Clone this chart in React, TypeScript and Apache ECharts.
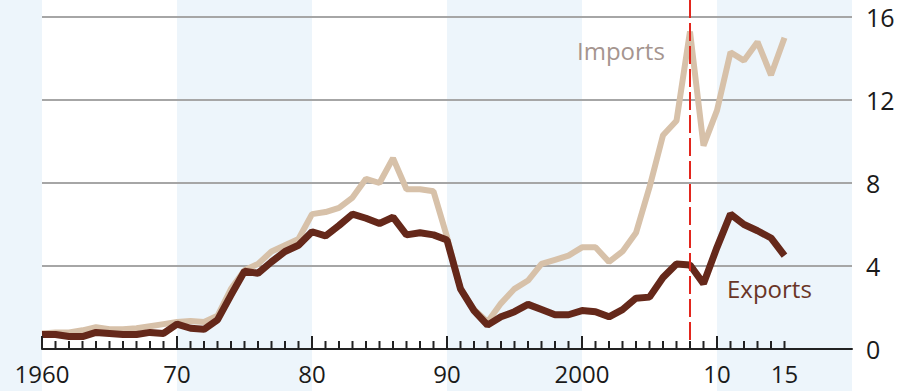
import React, { useEffect, useRef } from "react";
import * as echarts from "echarts";

const years = [
  1960, 1961, 1962, 1963, 1964, 1965, 1966, 1967, 1968, 1969,
  1970, 1971, 1972, 1973, 1974, 1975, 1976, 1977, 1978, 1979,
  1980, 1981, 1982, 1983, 1984, 1985, 1986, 1987, 1988, 1989,
  1990, 1991, 1992, 1993, 1994, 1995, 1996, 1997, 1998, 1999,
  2000, 2001, 2002, 2003, 2004, 2005, 2006, 2007, 2008, 2009,
  2010, 2011, 2012, 2013, 2014, 2015,
];

const importsValues = [
  0.75, 0.8, 0.8, 0.9, 1.05, 0.95, 0.95, 1.0, 1.1, 1.2,
  1.3, 1.35, 1.3, 1.6, 2.9, 3.8, 4.1, 4.7, 5.0, 5.3,
  6.5, 6.6, 6.8, 7.3, 8.2, 8.0, 9.2, 7.7, 7.7, 7.6,
  5.4, 2.9, 1.9, 1.3, 2.2, 2.9, 3.3, 4.1, 4.3, 4.5,
  4.9, 4.9, 4.2, 4.7, 5.6, 7.8, 10.3, 11.0, 15.3, 9.8,
  11.5, 14.3, 13.9, 14.8, 13.2, 15.0,
];

const exportsValues = [
  0.7, 0.7, 0.6, 0.6, 0.8, 0.75, 0.7, 0.7, 0.8, 0.75,
  1.2, 1.0, 0.95, 1.4, 2.6, 3.75, 3.65, 4.2, 4.7, 5.0,
  5.65, 5.45, 5.95, 6.5, 6.3, 6.05, 6.35, 5.5, 5.6, 5.5,
  5.25, 2.9, 1.85, 1.15, 1.55, 1.8, 2.15, 1.9, 1.65, 1.65,
  1.85, 1.8, 1.55, 1.9, 2.45, 2.5, 3.45, 4.1, 4.05, 3.15,
  4.9, 6.5, 6.0, 5.7, 5.35, 4.5,
];

const decadeBands = [
  [1950, 1960],
  [1970, 1980],
  [1990, 2000],
  [2010, 2020],
];
const xLabelYears = [1960, 1970, 1980, 1990, 2000, 2010, 2015];
const xLabelTexts = ["1960", "70", "80", "90", "2000", "10", "15"];
const majorTickYears = [1960, 1970, 1980, 1990, 2000, 2010];
const markerYear = 2008;
const yMin = 0;
const yMax = 16;
const yStep = 4;
const xMin = 1960;
const xMax = 2020;

const FONT = "Open Sans";

export default function App() {
  const ref = useRef<HTMLDivElement>(null);

  useEffect(() => {
    if (!ref.current) return;
    const chart = echarts.init(ref.current, null, { renderer: "svg" });

    const option: any = {
      animation: false,
      backgroundColor: "#ffffff",
      textStyle: { fontFamily: FONT },
      grid: { left: 42, right: 61, top: 17, bottom: 42, containLabel: false },
      xAxis: {
        type: "value",
        min: xMin,
        max: xMax,
        position: "bottom",
        z: 5,
        axisLine: { show: true, lineStyle: { color: "#222222", width: 2 } },
        axisTick: { show: false },
        axisLabel: { show: false },
        splitLine: { show: false },
      },
      yAxis: {
        type: "value",
        position: "right",
        min: yMin,
        max: yMax,
        interval: yStep,
        axisLine: { show: false },
        axisTick: { show: false },
        axisLabel: {
          fontSize: 25,
          color: "#1a1a1a",
          margin: 14,
          fontFamily: FONT,
        },
        splitLine: { show: true, lineStyle: { color: "#a6a6a6", width: 2 } },
      },
      series: [
        {
          type: "custom",
          name: "bands",
          silent: true,
          z: -1,
          data: decadeBands.map((b) => [b[0], b[1], 0]),
          encode: { x: [0, 1], y: 2 },
          renderItem: (params: any, api: any) => {
            const s = api.coord([api.value(0), 0]);
            const e = api.coord([api.value(1), 0]);
            return {
              type: "rect",
              shape: { x: s[0], y: 0, width: e[0] - s[0], height: api.getHeight() },
              style: { fill: "#edf5fb" },
            };
          },
        },
        {
          type: "custom",
          name: "ticks",
          silent: true,
          z: 7,
          clip: false,
          data: years.map((y) => [y, 0, majorTickYears.indexOf(y) >= 0 ? 1 : 0]),
          encode: { x: 0, y: 1 },
          renderItem: (params: any, api: any) => {
            const p = api.coord([api.value(0), api.value(1)]);
            const len = api.value(2) === 1 ? 13 : 8;
            return {
              type: "rect",
              shape: { x: p[0] - 1, y: p[1] - len, width: 2, height: len },
              style: { fill: "#222222" },
            };
          },
        },
        {
          type: "custom",
          name: "xlabels",
          silent: true,
          z: 7,
          clip: false,
          data: xLabelYears.map((y, i) => [y, 0, i]),
          encode: { x: 0, y: 1 },
          renderItem: (params: any, api: any) => {
            const p = api.coord([api.value(0), api.value(1)]);
            return {
              type: "text",
              x: p[0],
              y: p[1] + 12,
              style: {
                text: xLabelTexts[api.value(2)],
                fontSize: 24,
                fontFamily: FONT,
                fill: "#1a1a1a",
                align: "center",
                verticalAlign: "top",
              },
            };
          },
        },
        {
          type: "line",
          name: "Imports",
          data: years.map((y, i) => [y, importsValues[i]]),
          showSymbol: false,
          z: 3,
          lineStyle: { color: "#d7c1a9", width: 6 },
        },
        {
          type: "line",
          name: "Exports",
          data: years.map((y, i) => [y, exportsValues[i]]),
          showSymbol: false,
          z: 4,
          lineStyle: { color: "#65281a", width: 7 },
        },
        {
          type: "custom",
          name: "marker",
          silent: true,
          z: 6,
          data: [[markerYear, yMin]],
          renderItem: (params: any, api: any) => {
            const p = api.coord([api.value(0), api.value(1)]);
            return {
              type: "line",
              shape: { x1: p[0], y1: 0, x2: p[0], y2: p[1] },
              style: { stroke: "#e2261d", lineWidth: 2, lineDash: [18, 5] },
            };
          },
        },
      ],
      graphic: [
        {
          type: "text",
          x: 577,
          y: 50,
          z: 10,
          style: {
            text: "Imports",
            fontSize: 24,
            fontFamily: FONT,
            fill: "#a5958f",
            verticalAlign: "middle",
          },
        },
        {
          type: "text",
          x: 727,
          y: 288,
          z: 10,
          style: {
            text: "Exports",
            fontSize: 24,
            fontFamily: FONT,
            fill: "#6a3526",
            verticalAlign: "middle",
          },
        },
      ],
    };

    chart.setOption(option);
    return () => chart.dispose();
  }, []);

  return (
    <div
      ref={ref}
      style={{ position: "fixed", left: 0, top: 0, width: 913, height: 391 }}
    />
  );
}
